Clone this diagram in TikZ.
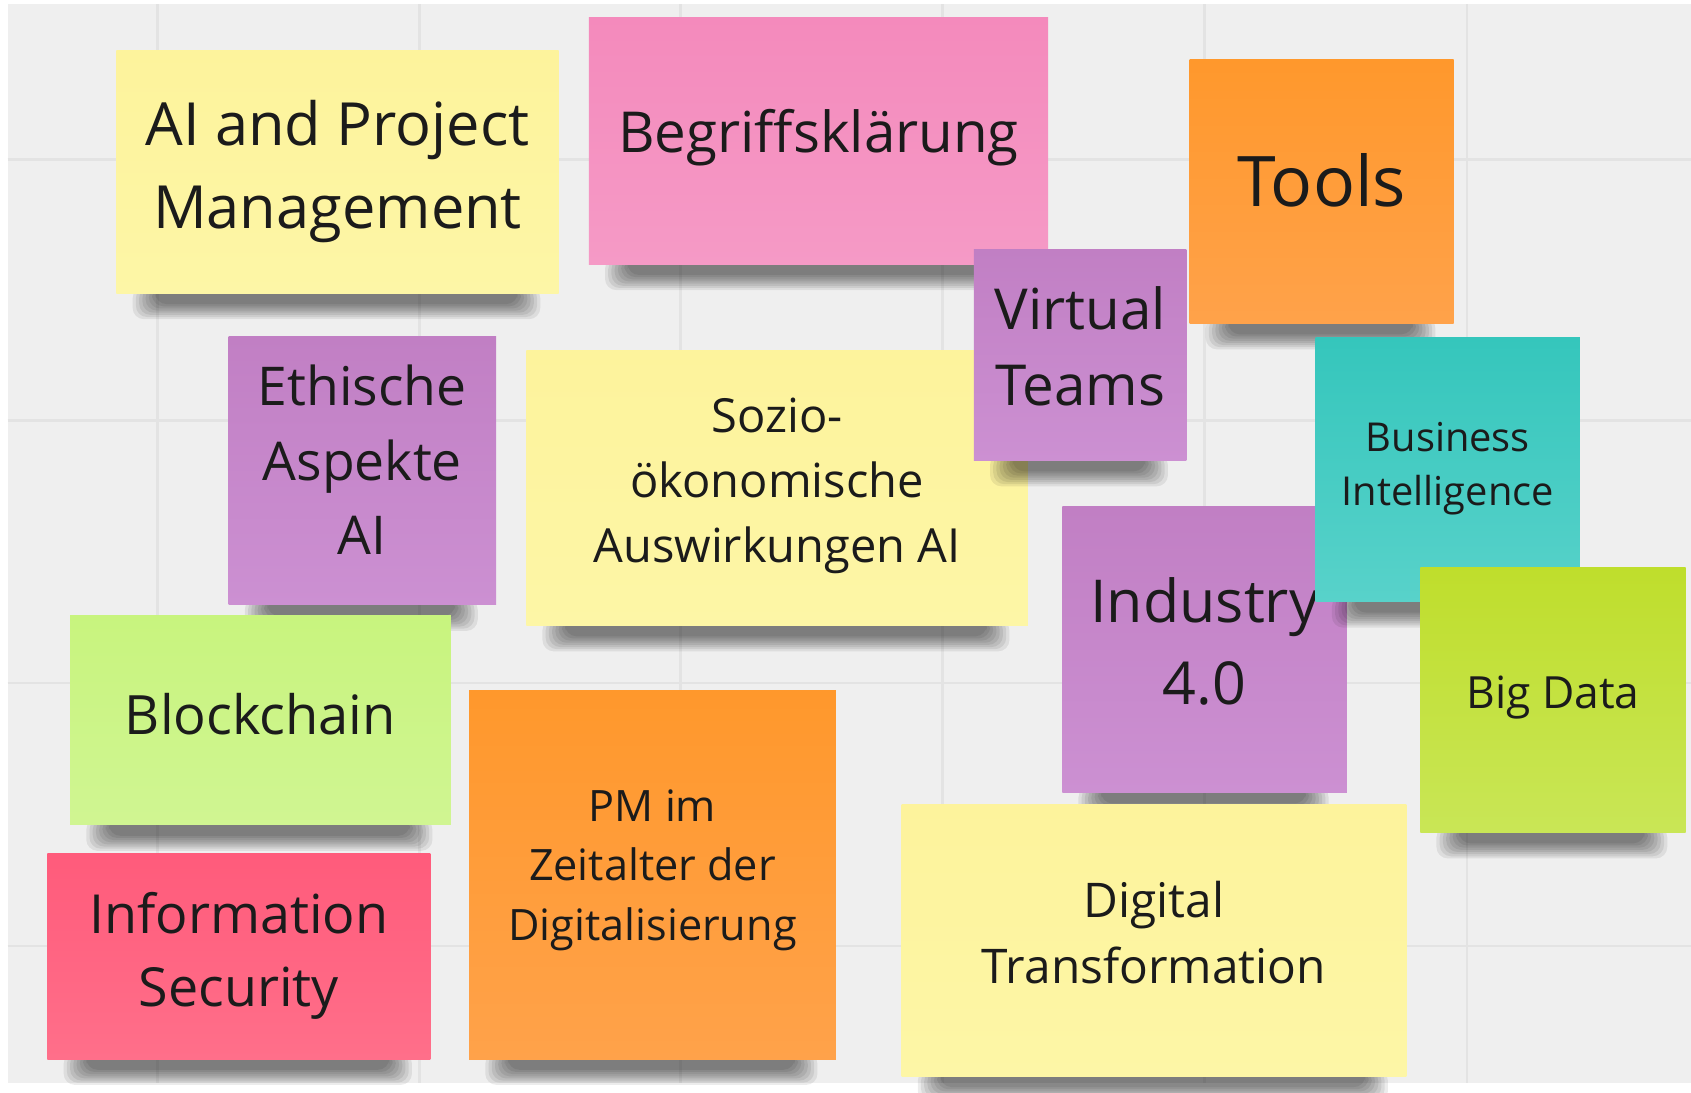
\documentclass[tikz,border=0pt]{standalone}
\usepackage{fontspec}
\setmainfont{Open Sans}
\usepackage{tikz}
\definecolor{boardgrey}{HTML}{EFEFEF}
\definecolor{gridgrey}{HTML}{E3E3E3}
\definecolor{inkblack}{HTML}{1B1B1B}
\definecolor{yellowhi}{HTML}{FDF39C}
\definecolor{yellowlo}{HTML}{FDF6A6}
\definecolor{pinkhi}{HTML}{F48ABC}
\definecolor{pinklo}{HTML}{F59AC6}
\definecolor{orangehi}{HTML}{FF982C}
\definecolor{orangelo}{HTML}{FFA24A}
\definecolor{purplehi}{HTML}{C17FC4}
\definecolor{purplelo}{HTML}{CC90D2}
\definecolor{tealhi}{HTML}{35C6BC}
\definecolor{teallo}{HTML}{58D2CA}
\definecolor{limehi}{HTML}{BFDE2C}
\definecolor{limelo}{HTML}{C9E656}
\definecolor{greenhi}{HTML}{C8F47E}
\definecolor{greenlo}{HTML}{D0F592}
\definecolor{redhi}{HTML}{FF5B7B}
\definecolor{redlo}{HTML}{FF6F8A}
\newcommand\notefont[2]{\fontsize{#1}{#2}\selectfont}
\newcommand\paper[5]{%
  \foreach \k in {1,...,8}
    \fill[note shadow] ({#2+12+3*\k},{#5-6}) rectangle ({#4-14-3*\k},{#5+26-2*\k});
  \path[#1] (#2,#3) rectangle (#4,#5);}
\tikzstyle{note shadow} = [black, opacity=0.075, rounded corners=3pt]
\tikzstyle{note text} = [inner sep=0pt, align=center, text=inkblack]
\tikzstyle{gridline} = [draw=gridgrey, line width=0.6pt]

\begin{document}
\begin{tikzpicture}[x=0.01cm, y=-0.01cm]
            \tikzstyle{yellow note} = [top color=yellowhi, bottom color=yellowlo]
            \tikzstyle{pink note} = [top color=pinkhi, bottom color=pinklo]
            \tikzstyle{orange note} = [top color=orangehi, bottom color=orangelo]
            \tikzstyle{purple note} = [top color=purplehi, bottom color=purplelo]
            \tikzstyle{teal note} = [top color=tealhi, bottom color=teallo]
            \tikzstyle{lime note} = [top color=limehi, bottom color=limelo]
            \tikzstyle{green note} = [top color=greenhi, bottom color=greenlo]
            \tikzstyle{red note} = [top color=redhi, bottom color=redlo]
          \useasboundingbox (0,0) rectangle (1568,1013);
          \fill[white] (0,0) rectangle (1568,1013);
          \fill[boardgrey] (7,4) rectangle (1568,1004);
          \foreach \gx in {146,389,631,874,1117,1360}
            \path [gridline] (\gx,4) -- (\gx,1004);
          \foreach \gy in {148,390,633,877}
            \path [gridline] (7,\gy) -- (1568,\gy);
          \paper{yellow note}{108}{47}{518}{272}
          \node[note text, font=\notefont{15.7}{21.9}] (aipm) at (313,159.5) {AI and Project\\Management};
          \paper{pink note}{546}{16}{972}{245}
          \node[note text, font=\notefont{14.9}{20}] (begriff) at (759,127.5) {Begriffsklärung};
          \paper{orange note}{1103}{55}{1348}{300}
          \node[note text, font=\notefont{18.4}{22}] (tools) at (1225.5,167.5) {Tools};
          \paper{yellow note}{488}{325}{953}{580}
          \node[note text, font=\notefont{12.4}{17.1}] (sozio) at (720.5,450.5) {Sozio-\\ökonomische\\Auswirkungen AI};
          \paper{purple note}{903}{231}{1100}{427}
          \node[note text, font=\notefont{14.9}{19.9}] (vteams) at (1001.5,321) {Virtual\\Teams};
          \paper{purple note}{212}{312}{460}{561}
          \node[note text, font=\notefont{14.1}{19.6}] (ethik) at (336,426.5) {Ethische\\Aspekte\\AI};
          \paper{purple note}{985}{470}{1249}{735}
          \node[note text, font=\notefont{15.6}{21.6}] (industry) at (1117,594.5) {Industry\\4.0};
          \paper{teal note}{1220}{313}{1465}{558}
          \node[note text, font=\notefont{10.5}{14.2}] (bi) at (1342.5,434.5) {Business\\Intelligence};
          \paper{lime note}{1317}{526}{1563}{772}
          \node[note text, font=\notefont{11.7}{15}] (bigdata) at (1440,647) {Big Data};
          \paper{green note}{65}{571}{418}{765}
          \node[note text, font=\notefont{14.3}{18}] (blockchain) at (241.5,662) {Blockchain};
          \paper{orange note}{435}{640}{775}{982}
          \node[note text, font=\notefont{11.4}{15.6}] (pm) at (605,807) {PM im\\Zeitalter der\\Digitalisierung};
          \paper{yellow note}{836}{746}{1304}{998}
          \node[note text, font=\notefont{12.6}{17.4}] (dt) at (1070,865) {Digital\\Transformation};
          \paper{red note}{44}{791}{399}{982}
          \node[note text, font=\notefont{14.2}{19.4}] (infosec) at (221.5,886.5) {Information\\Security};
        \end{tikzpicture}
\end{document}
